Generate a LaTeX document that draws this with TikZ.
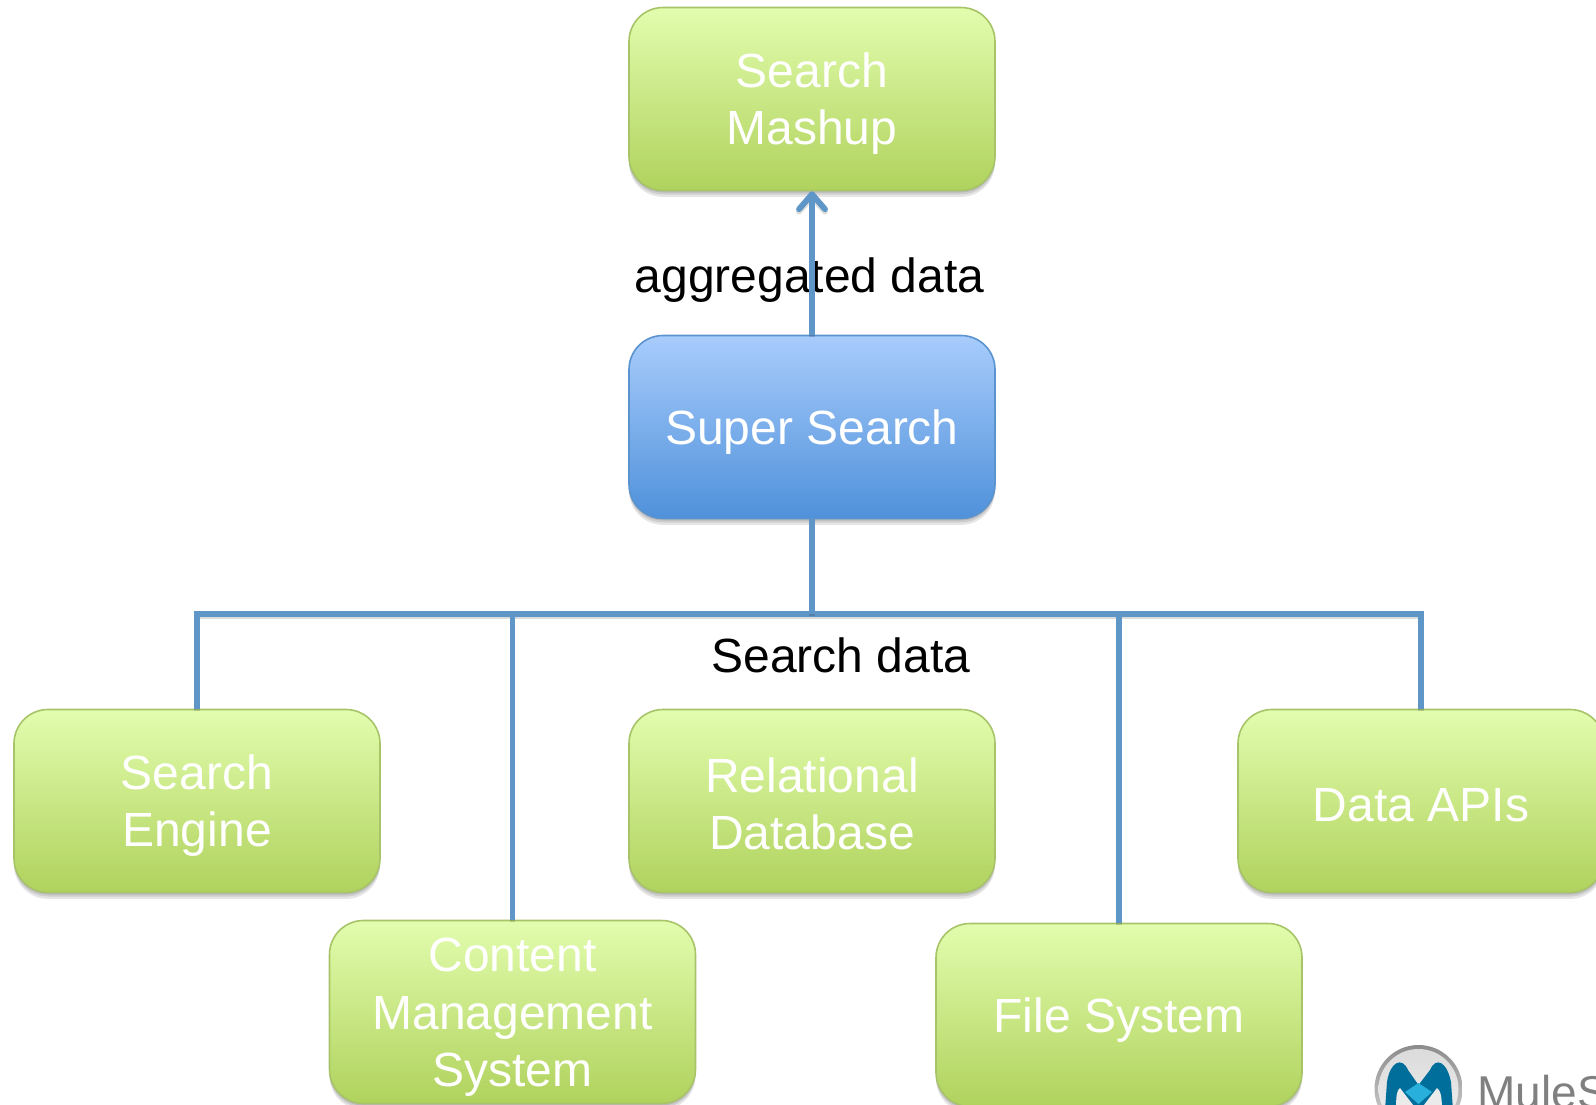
\documentclass[tikz,border=0pt]{standalone}
\usepackage{fontspec}
\setmainfont{Liberation Sans}
\usetikzlibrary{arrows.meta,shadows,calc}
\definecolor{greenT}{HTML}{E2FDAE}
\definecolor{greenB}{HTML}{B0D25D}
\definecolor{greenE}{HTML}{A8C468}
\definecolor{blueT}{HTML}{A8CCFC}
\definecolor{blueB}{HTML}{4F91DA}
\definecolor{blueE}{HTML}{5B93CF}
\definecolor{lineC}{HTML}{5F96C8}
\newcommand{\bxs}{\rule[-2pt]{0pt}{24pt}}
\tikzset{
  softshadow/.style={
    general shadow={shadow yshift=-1pt,fill=black,opacity=.10},
    general shadow={shadow yshift=-2pt,fill=black,opacity=.10},
    general shadow={shadow yshift=-3.2pt,fill=black,opacity=.10}},
  boxbase/.style={rectangle,rounded corners=17pt,minimum width=183pt,minimum height=91.5pt,
    inner sep=0pt,line width=0.8pt,text=white,align=center,
    font=\fontsize{24}{28.7}\selectfont,softshadow},
  greenbox/.style={boxbase,draw=greenE,top color=greenT,bottom color=greenB},
  bluebox/.style={boxbase,draw=blueE,top color=blueT,bottom color=blueB},
  conn/.style={draw=lineC,line width=2.9pt,
    preaction={draw=black,opacity=.14,line width=2.9pt,transform canvas={yshift=-1.2pt}}},
  lbl/.style={inner sep=0pt,text=black,font=\fontsize{24}{28.5}\selectfont},
}
\begin{document}
\begin{tikzpicture}[x=0.5pt,y=-0.5pt]
\useasboundingbox (0,0) rectangle (1596,1104);
\clip (0,0) rectangle (1596,1104);
% logo
\shade[top color=black!45,bottom color=black!15] (1418.5,1089) circle (44);
\shade[top color=black!14,bottom color=black!6] (1418.5,1089) circle (40);
\fill[color={rgb,255:red,0;green,110;blue,155}] (1385,1110) -- (1387,1082) .. controls (1390,1062) and (1402,1056) .. (1408,1070)
   -- (1418.5,1085) -- (1430,1070) .. controls (1436,1056) and (1447,1062) .. (1451,1082) -- (1453,1110) -- cycle;
\fill[black!8] (1396,1110) .. controls (1396,1095) and (1397,1090) .. (1400,1088) -- (1418.5,1112) -- (1437,1088) .. controls (1440,1090) and (1442,1095) .. (1442,1110) -- cycle;
\fill[color={rgb,255:red,40;green,175;blue,220}] (1405,1092) -- (1418.5,1083) -- (1432,1092) -- (1418.5,1104) -- cycle;
\node[anchor=base west,inner sep=0pt,text=black!50,font=\fontsize{23}{28}\selectfont] (mule) at (1477,1108) {MuleS};
% labels
\node[lbl] (agg) at (809.5,280) {aggregated data};
\node[lbl] (sdata) at (841,655) {Search data};
% boxes
\node[greenbox] (mash) at (812,99) {\bxs Search\\\bxs Mashup};
\node[bluebox] (super) at (812,427) {\bxs Super Search};
\node[greenbox] (engine) at (197,801) {\bxs Search\\\bxs Engine};
\node[greenbox] (rel) at (812,801) {\bxs Relational\\\bxs Database};
\node[greenbox] (data) at (1421,801) {\bxs Data APIs};
\node[greenbox] (cms) at (512.5,1012) {\bxs Content\\\bxs Management\\\bxs System};
\node[greenbox] (file) at (1119,1015) {\bxs File System};
% connectors
\coordinate (bus) at (812,614);
\draw[conn,line join=miter] (engine.north) |- (bus) -| (data.north);
\draw[conn] (super.south) -- (bus);
\draw[conn] (cms.north) -- (cms.north |- bus);
\draw[conn] (file.north) -- (file.north |- bus);
\draw[conn,-{Straight Barb[round,length=7.5pt,width=13pt]}] (super.north) -- (mash.south);
\end{tikzpicture}
\end{document}
